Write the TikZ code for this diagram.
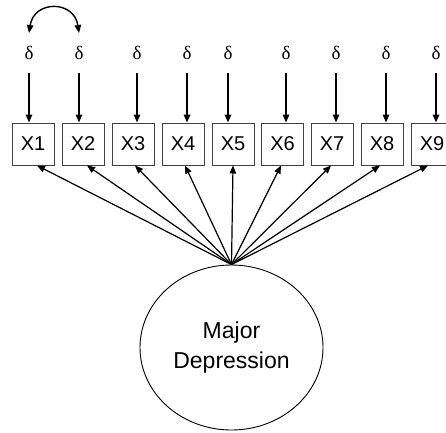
\documentclass[tikz,border=0pt]{standalone}
\usepackage{fontspec}
\setmainfont{Liberation Sans}
\newfontfamily\greekfont{Liberation Serif}
\usetikzlibrary{arrows.meta,shapes.geometric,calc}
\begin{document}
\begin{tikzpicture}[x=1pt,y=1pt,
  obsbox/.style={draw=black!75,line width=1pt,minimum width=42pt,minimum height=42pt,inner sep=0pt,font=\fontsize{20}{22}\selectfont},
  errnode/.style={inner sep=0pt,font=\fontsize{19}{20}\selectfont},
  tip/.tip={Triangle[length=8pt,width=6.5pt]},
  errarrow/.style={line width=1.6pt,-tip},
  loadarrow/.style={line width=1.2pt,-tip},
  latent/.style={draw,ellipse,line width=0.9pt,minimum width=183pt,minimum height=165pt,inner sep=0pt,align=center,font=\fontsize{23}{30}\selectfont}]
\useasboundingbox (0,0) rectangle (446,-432);
% observed boxes
\foreach \i/\x in {1/33,2/83,3/133,4/183,5/233,6/282.5,7/332,8/382,9/432}{
  \node[obsbox] (x\i) at (\x,-144) {X\i};
}
% error terms
\foreach \i/\x in {1/29,2/79,3/137,4/187,5/228,6/286,7/336,8/386,9/436}{
  \node[errnode] (d\i) at (\x,-53) {\greekfont δ};
  \coordinate (s\i) at (\x,-73);
  \coordinate (t\i) at (\x,-33);
}
\foreach \i in {1,...,9}{
  \draw[errarrow] (s\i) -- (s\i |- x\i.north);
}
% correlated errors
\draw[line width=1.4pt,tip-tip]
  (t1) .. controls +(5,33) and +(-5,33) .. (t2);
% latent factor
\node[latent] (md) at (231.5,-347.5) {Major\\Depression};
% loadings
\foreach \i/\dx in {1/4,2/4,3/2,4/2,5/0,6/-1.5,7/-1,8/-2,9/-4}{
  \draw[loadarrow] (md.north) -- ($(x\i.south)+(\dx,0)$);
}
\end{tikzpicture}
\end{document}
